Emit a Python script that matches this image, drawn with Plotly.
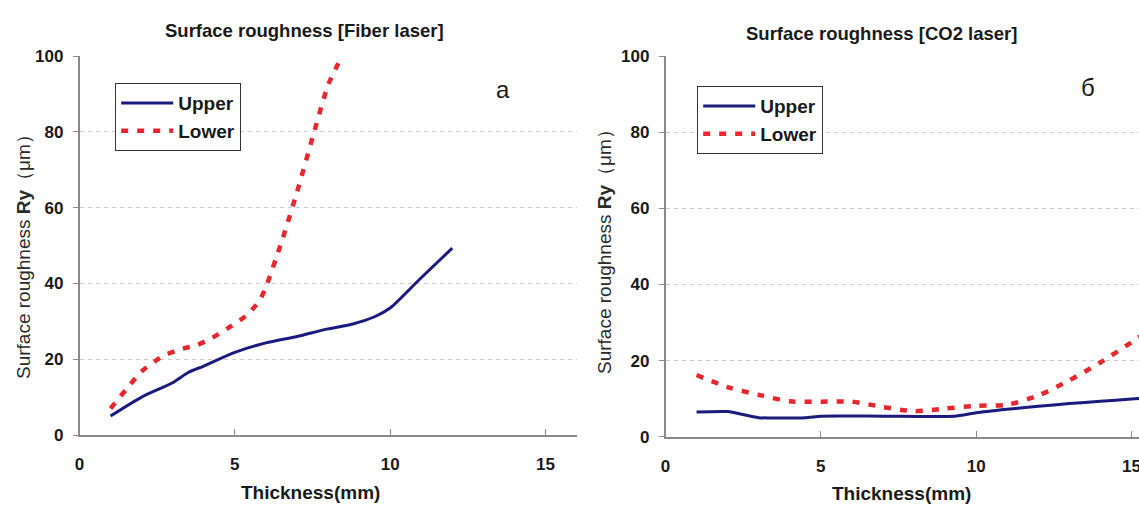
import plotly.graph_objects as go

# ---------------- data ----------------
fiber_upper_x = [1, 2, 3, 3.5, 4, 5, 6, 7, 8, 8.8, 9.5, 10, 11, 12]
fiber_upper_y = [5, 10, 13.8, 16.5, 18.2, 21.8, 24.3, 26, 28, 29.3, 31.2, 33.5, 41.5, 49.3]

fiber_lower_x = [1, 1.5, 2, 2.7, 3.2, 3.8, 4.2, 4.8, 5.4, 5.8, 6, 6.5, 7, 7.5, 8, 8.45]
fiber_lower_y = [7, 12, 16.8, 20.9, 22.5, 23.8, 25.3, 28.3, 31.7, 35.5, 39, 50.8, 64, 78.4, 92.3, 100]

co2_upper_x = [1, 2, 3, 4.5, 5, 7, 9.3, 10, 11, 12, 13, 14, 15, 15.5]
co2_upper_y = [6.5, 6.6, 5.0, 5.0, 5.4, 5.4, 5.4, 6.3, 7.2, 8.0, 8.7, 9.3, 9.9, 10.2]

co2_lower_x = [1, 2, 3, 4, 5, 6, 7, 8, 9, 10, 11, 12, 13, 14, 15, 15.5]
co2_lower_y = [16.2, 13, 11, 9.3, 9.2, 9.2, 7.8, 6.7, 7.4, 8.1, 8.4, 10.8, 14.8, 19.5, 24.8, 27.5]

series_names = ["Upper", "Lower"]
panel_titles = ["Surface roughness [Fiber laser]", "Surface roughness [CO2 laser]"]
panel_letters = ["a", "б"]
x_title = "Thickness(mm)"
y_title = "Surface roughness <b>Ry</b>（μm）"
y_ticks = [0, 20, 40, 60, 80, 100]
x_ticks = [0, 5, 10, 15]

# ---------------- styles ----------------
W, H = 1139, 505
NAVY = "#1b1b7e"
RED = "#e8262d"
FONT = "Liberation Sans, Arial, sans-serif"
AXIS_COL = "#8a8a8a"
GRID_COL = "#cdcdcd"

def px_x(p):
    return p / W

def px_y(p):
    return 1 - p / H

fig = go.Figure()

upper_line = dict(color=NAVY, width=3)
lower_line = dict(color=RED, width=4.5, dash="7px,9px")

fig.add_trace(go.Scatter(x=fiber_upper_x, y=fiber_upper_y, mode="lines", name=series_names[0],
                         line=dict(**upper_line, shape="spline", smoothing=0.7),
                         xaxis="x", yaxis="y", legend="legend"))
fig.add_trace(go.Scatter(x=fiber_lower_x, y=fiber_lower_y, mode="lines", name=series_names[1],
                         line=dict(**lower_line, shape="spline", smoothing=0.5),
                         xaxis="x", yaxis="y", legend="legend"))
fig.add_trace(go.Scatter(x=co2_upper_x, y=co2_upper_y, mode="lines", name=series_names[0],
                         line=dict(**upper_line, shape="spline", smoothing=0.5),
                         xaxis="x2", yaxis="y2", legend="legend2"))
fig.add_trace(go.Scatter(x=co2_lower_x, y=co2_lower_y, mode="lines", name=series_names[1],
                         line=dict(**lower_line, shape="spline", smoothing=0.7),
                         xaxis="x2", yaxis="y2", legend="legend2"))

tick_font = dict(family=FONT, size=17, color="#1a1a1a")

def xaxis_style(domain, rng, anchor):
    return dict(domain=domain, range=rng, anchor=anchor, tickvals=x_ticks,
                ticktext=[f"<b>{v}</b>" for v in x_ticks],
                showgrid=False, zeroline=False, showline=True, linecolor=AXIS_COL,
                linewidth=1.5, ticks="inside", ticklen=6, tickcolor=AXIS_COL,
                tickfont=tick_font, ticklabelstandoff=13, automargin=False,
                ticklabeloverflow="allow", fixedrange=True)

def yaxis_style(domain, anchor):
    return dict(domain=domain, range=[0, 100], anchor=anchor, tickvals=y_ticks,
                ticktext=[f"<b>{v}</b>" for v in y_ticks],
                showgrid=True, gridcolor=GRID_COL, gridwidth=1, griddash="4px,4px",
                zeroline=False, showline=True, linecolor=AXIS_COL, linewidth=1.5,
                ticks="outside", ticklen=5, tickcolor=AXIS_COL,
                tickfont=tick_font, ticklabelstandoff=6, automargin=False,
                ticklabeloverflow="allow", fixedrange=True)

left_x0, left_x1 = 79.5, 576.5
right_x0 = 665.5
unit = (left_x1 - left_x0) / 16.0
right_max = (W - right_x0) / unit

legend_font = dict(family=FONT, size=19, color="#1a1a1a")

fig.update_layout(
    width=W, height=H,
    margin=dict(l=0, r=0, t=0, b=0),
    paper_bgcolor="white", plot_bgcolor="white",
    template="none",
    font=dict(family=FONT, color="#1a1a1a"),
    xaxis=xaxis_style([px_x(left_x0), px_x(left_x1)], [0, 16], "y"),
    yaxis=yaxis_style([px_y(435), px_y(56)], "x"),
    xaxis2=xaxis_style([px_x(right_x0), 1.0], [0, right_max], "y2"),
    yaxis2=yaxis_style([px_y(436.7), px_y(56)], "x2"),
    legend=dict(x=px_x(115), y=px_y(83), xanchor="left", yanchor="top",
                bordercolor="#333333", borderwidth=1.2, bgcolor="white",
                font=legend_font, itemwidth=52, tracegroupgap=0),
    legend2=dict(x=px_x(697), y=px_y(86), xanchor="left", yanchor="top",
                 bordercolor="#333333", borderwidth=1.2, bgcolor="white",
                 font=legend_font, itemwidth=52, tracegroupgap=0),
    showlegend=True,
)

# make legend entry text bold via name markup
for tr in fig.data:
    tr.name = f"<b>{tr.name}</b>"

annotations = []
# panel titles
for cx, cy, t in [(304, 30, panel_titles[0]), (881, 33, panel_titles[1])]:
    annotations.append(dict(x=px_x(cx), y=px_y(cy), xref="paper", yref="paper",
                            text=f"<b>{t}</b>", showarrow=False, xanchor="center", yanchor="middle",
                            font=dict(family=FONT, size=18.5, color="#1a1a1a")))
# x titles
for cx, cy in [(310, 492), (901, 493)]:
    annotations.append(dict(x=px_x(cx), y=px_y(cy), xref="paper", yref="paper",
                            text=f"<b>{x_title}</b>", showarrow=False, xanchor="center", yanchor="middle",
                            font=dict(family=FONT, size=19, color="#1a1a1a")))
# y titles
for cx, cy in [(23, 252), (604, 247)]:
    annotations.append(dict(x=px_x(cx), y=px_y(cy), xref="paper", yref="paper",
                            text=y_title, showarrow=False, textangle=-90,
                            xanchor="center", yanchor="middle",
                            font=dict(family=FONT, size=19, color="#2a2a2a")))
# panel letters
for cx, cy, t in [(503, 90, panel_letters[0]), (1088, 88, panel_letters[1])]:
    annotations.append(dict(x=px_x(cx), y=px_y(cy), xref="paper", yref="paper",
                            text=t, showarrow=False, xanchor="center", yanchor="middle",
                            font=dict(family=FONT, size=24, color="#1a1a1a")))
fig.update_layout(annotations=annotations)

fig.write_html("out.html")
